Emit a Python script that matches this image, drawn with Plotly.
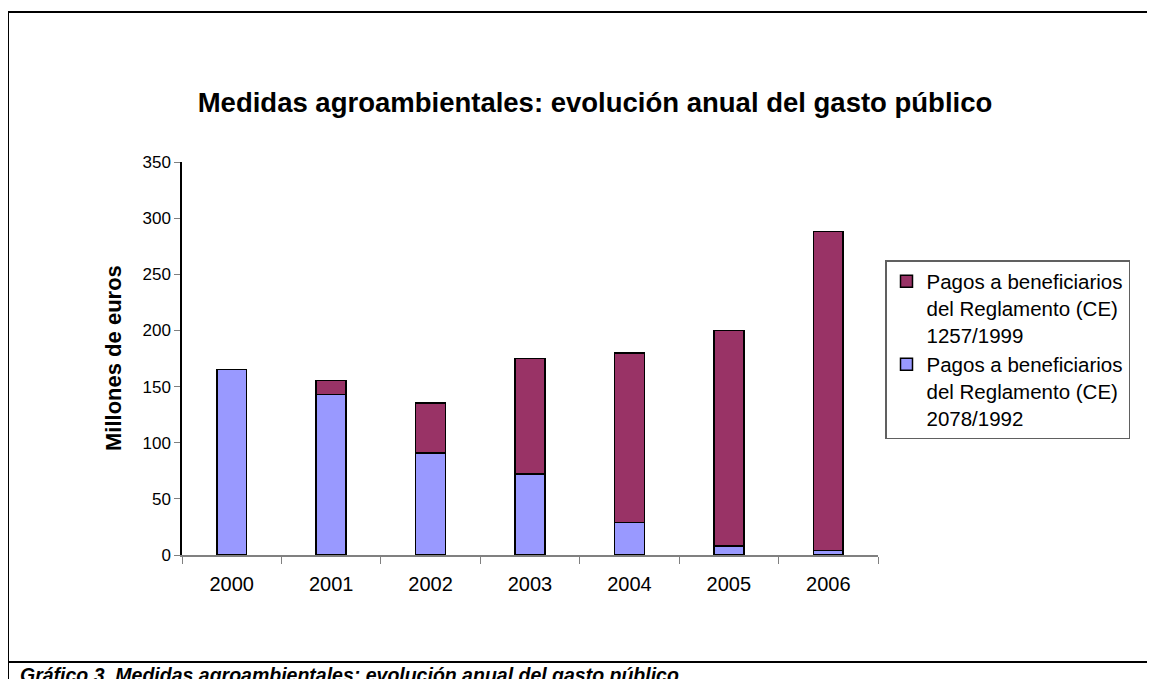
import plotly.graph_objects as go

# data (millones de euros)
years = ["2000", "2001", "2002", "2003", "2004", "2005", "2006"]
pagos_2078_1992 = [165, 143, 91, 72, 29, 8, 4]
pagos_1257_1999 = [None, 12.5, 44.5, 103, 151, 192, 284]

name_1257 = "Pagos a beneficiarios<br>del Reglamento (CE)<br>1257/1999"
name_2078 = "Pagos a beneficiarios<br>del Reglamento (CE)<br>2078/1992"

# the page body adds an 8px margin, so reference pixels are shifted by O
O = 8
W, H = 1155 - O, 679 - O
L, R, T, B = 182, 878, 162, 555  # plot area in reference pixels


def px(x):
    return (x - L) / (R - L)


def py(y):
    return (B - y) / (B - T)


FONT = "Liberation Sans, Arial, sans-serif"

fig = go.Figure()
fig.add_trace(go.Bar(
    x=years, y=pagos_2078_1992, name=name_2078,
    marker=dict(color="#9999FF", line=dict(color="black", width=1.5)),
    width=0.3,
))
fig.add_trace(go.Bar(
    x=years, y=pagos_1257_1999, name=name_1257,
    marker=dict(color="#993366", line=dict(color="black", width=1.5)),
    width=0.3,
))

# frame lines of the document box
frame = dict(color="black", width=2)
shapes = [
    dict(type="line", xref="paper", yref="paper", x0=px(8), x1=px(1170), y0=py(12), y1=py(12), line=frame),
    dict(type="line", xref="paper", yref="paper", x0=px(8), x1=px(8), y0=py(12), y1=py(700), line=frame),
    dict(type="line", xref="paper", yref="paper", x0=px(8), x1=px(1170), y0=py(662), y1=py(662), line=frame),
]

fig.update_layout(
    width=W, height=H,
    margin=dict(l=L - O, r=(1155 - R), t=T - O, b=(679 - B), pad=0),
    paper_bgcolor="white", plot_bgcolor="white",
    barmode="stack",
    font=dict(family=FONT, size=18, color="black"),
    title=dict(
        text="<b>Medidas agroambientales: evolución anual del gasto público</b>",
        font=dict(size=27.5, family=FONT, color="black"),
        x=px(595), xref="paper", xanchor="center",
        y=1 - (102.5 - O) / H, yref="container", yanchor="middle",
    ),
    xaxis=dict(
        showline=True, linecolor="#808080", linewidth=1.5,
        ticks="outside", tickson="boundaries", ticklen=7, tickcolor="#808080",
        tickfont=dict(size=20), ticklabelstandoff=10, showgrid=False,
    ),
    yaxis=dict(
        range=[0, 350], dtick=50, showline=True, linecolor="black", linewidth=1.5,
        ticks="outside", ticklen=6, tickcolor="#808080",
        tickfont=dict(size=17), showgrid=False, zeroline=False,
    ),
    legend=dict(
        x=px(885), y=py(260), xanchor="left", yanchor="top",
        traceorder="reversed", valign="top",
        bordercolor="#606060", borderwidth=1.5,
        font=dict(size=20.5), itemwidth=30,
    ),
    shapes=shapes,
    annotations=[
        dict(text="<b>Millones de euros</b>", textangle=-90, showarrow=False,
             xref="paper", yref="paper", x=px(113), y=py(358),
             xanchor="center", yanchor="middle", font=dict(size=22)),
        dict(text="<b><i>Gráfico 3. Medidas agroambientales: evolución anual del gasto público.</i></b>",
             showarrow=False, xref="paper", yref="paper", x=px(18), y=py(662),
             xanchor="left", yanchor="top", font=dict(size=19.5)),
    ],
)

fig.write_html("out.html")
